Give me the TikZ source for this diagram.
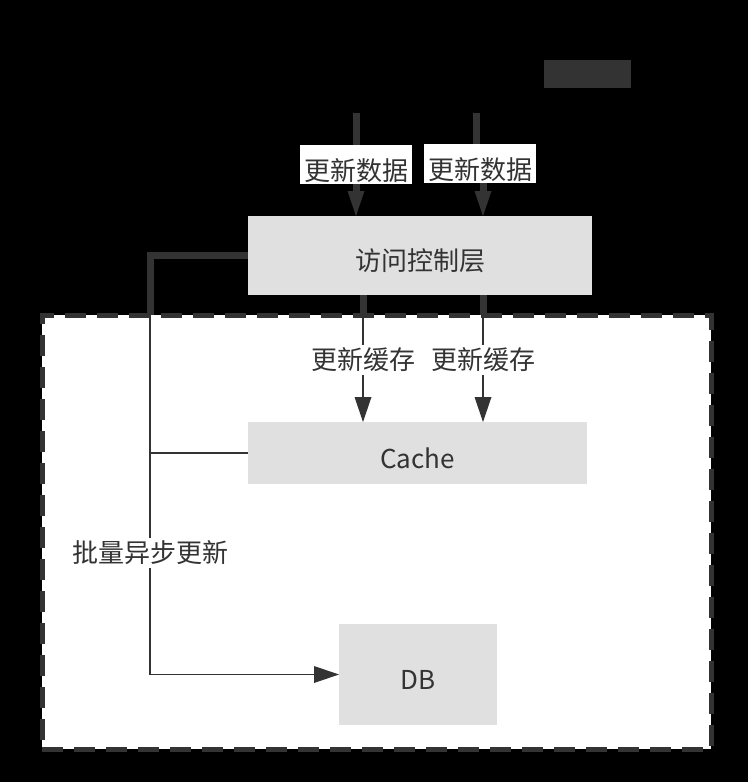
\documentclass[tikz,border=0pt]{standalone}
\usepackage{fontspec}
\setmainfont{Noto Sans CJK SC}
\usetikzlibrary{arrows.meta,calc}
\definecolor{ln}{HTML}{333333}
\definecolor{boxfill}{HTML}{E0E0E0}
\begin{document}
\begin{tikzpicture}[x=1pt,y=-1pt,
  font=\fontsize{26pt}{30pt}\selectfont,
  every node/.style={text=ln, inner sep=0pt, outer sep=0pt},
  gbox/.style={fill=boxfill, draw=none, text height=31pt, text depth=1pt},
  edge/.style={draw=ln, line width=1.5pt},
  wide/.style={draw=ln, line width=7pt},
  tip/.style={-{Triangle[length=25pt,width=17pt,line width=0pt]}},
  lbl/.style={fill=white, inner sep=3pt},
  toplbl/.style={fill=white, minimum width=112pt, minimum height=39pt, text height=33pt, text depth=1pt},
  grpbox/.style={fill=white, draw=ln, line width=5pt, dash pattern=on 21pt off 11pt}
]
\useasboundingbox (0,0) rectangle (748,782);
\fill[black] (0,0) rectangle (748,782);

% container
\node[grpbox, minimum width=669pt, minimum height=434pt] (grp) at (376.5,532) {};

% boxes
\node[gbox, minimum width=344pt, minimum height=79pt] (ctrl) at (420,255.5) {访问控制层};
\node[gbox, minimum width=339pt, minimum height=62pt] (cache) at (417.5,453) {Cache};
\node[gbox, minimum width=158pt, minimum height=101pt] (db) at (418,674.5) {DB};

% dark title block
\node[fill=ln, minimum width=87pt, minimum height=28pt] (title) at (587.5,74) {};

% top incoming arrows
\coordinate (s1) at (356,113);
\coordinate (s2) at (476,113);
\draw[wide,tip] (s1) -- (s1 |- ctrl.north) node[toplbl,midway] (l1) {更新数据};
\draw[wide,tip] (s2) |- (483,165) -- (483,0 |- ctrl.north);
\node[toplbl] (l2) at (480,163.5) {更新数据};

% control -> cache
\coordinate (c1) at (363,0 |- grp.north);
\coordinate (c2) at (483,0 |- grp.north);
\draw[wide] (ctrl.south -| c1) -- (c1);
\draw[wide] (ctrl.south -| c2) -- (c2);
\draw[edge,tip] (c1) -- (c1 |- cache.north) node[lbl,pos=0.42] (l3) {更新缓存};
\draw[edge,tip] (c2) -- (c2 |- cache.north) node[lbl,pos=0.42] (l4) {更新缓存};

% batch async update
\coordinate (bend) at (150,0 |- grp.north);
\draw[wide] (ctrl.west) -| (bend);
\draw[edge] (cache.west) -- (cache.west -| bend);
\draw[edge,tip] (bend) |- (db.west) node[lbl,pos=0.331] (l5) {批量异步更新};
\end{tikzpicture}
\end{document}
